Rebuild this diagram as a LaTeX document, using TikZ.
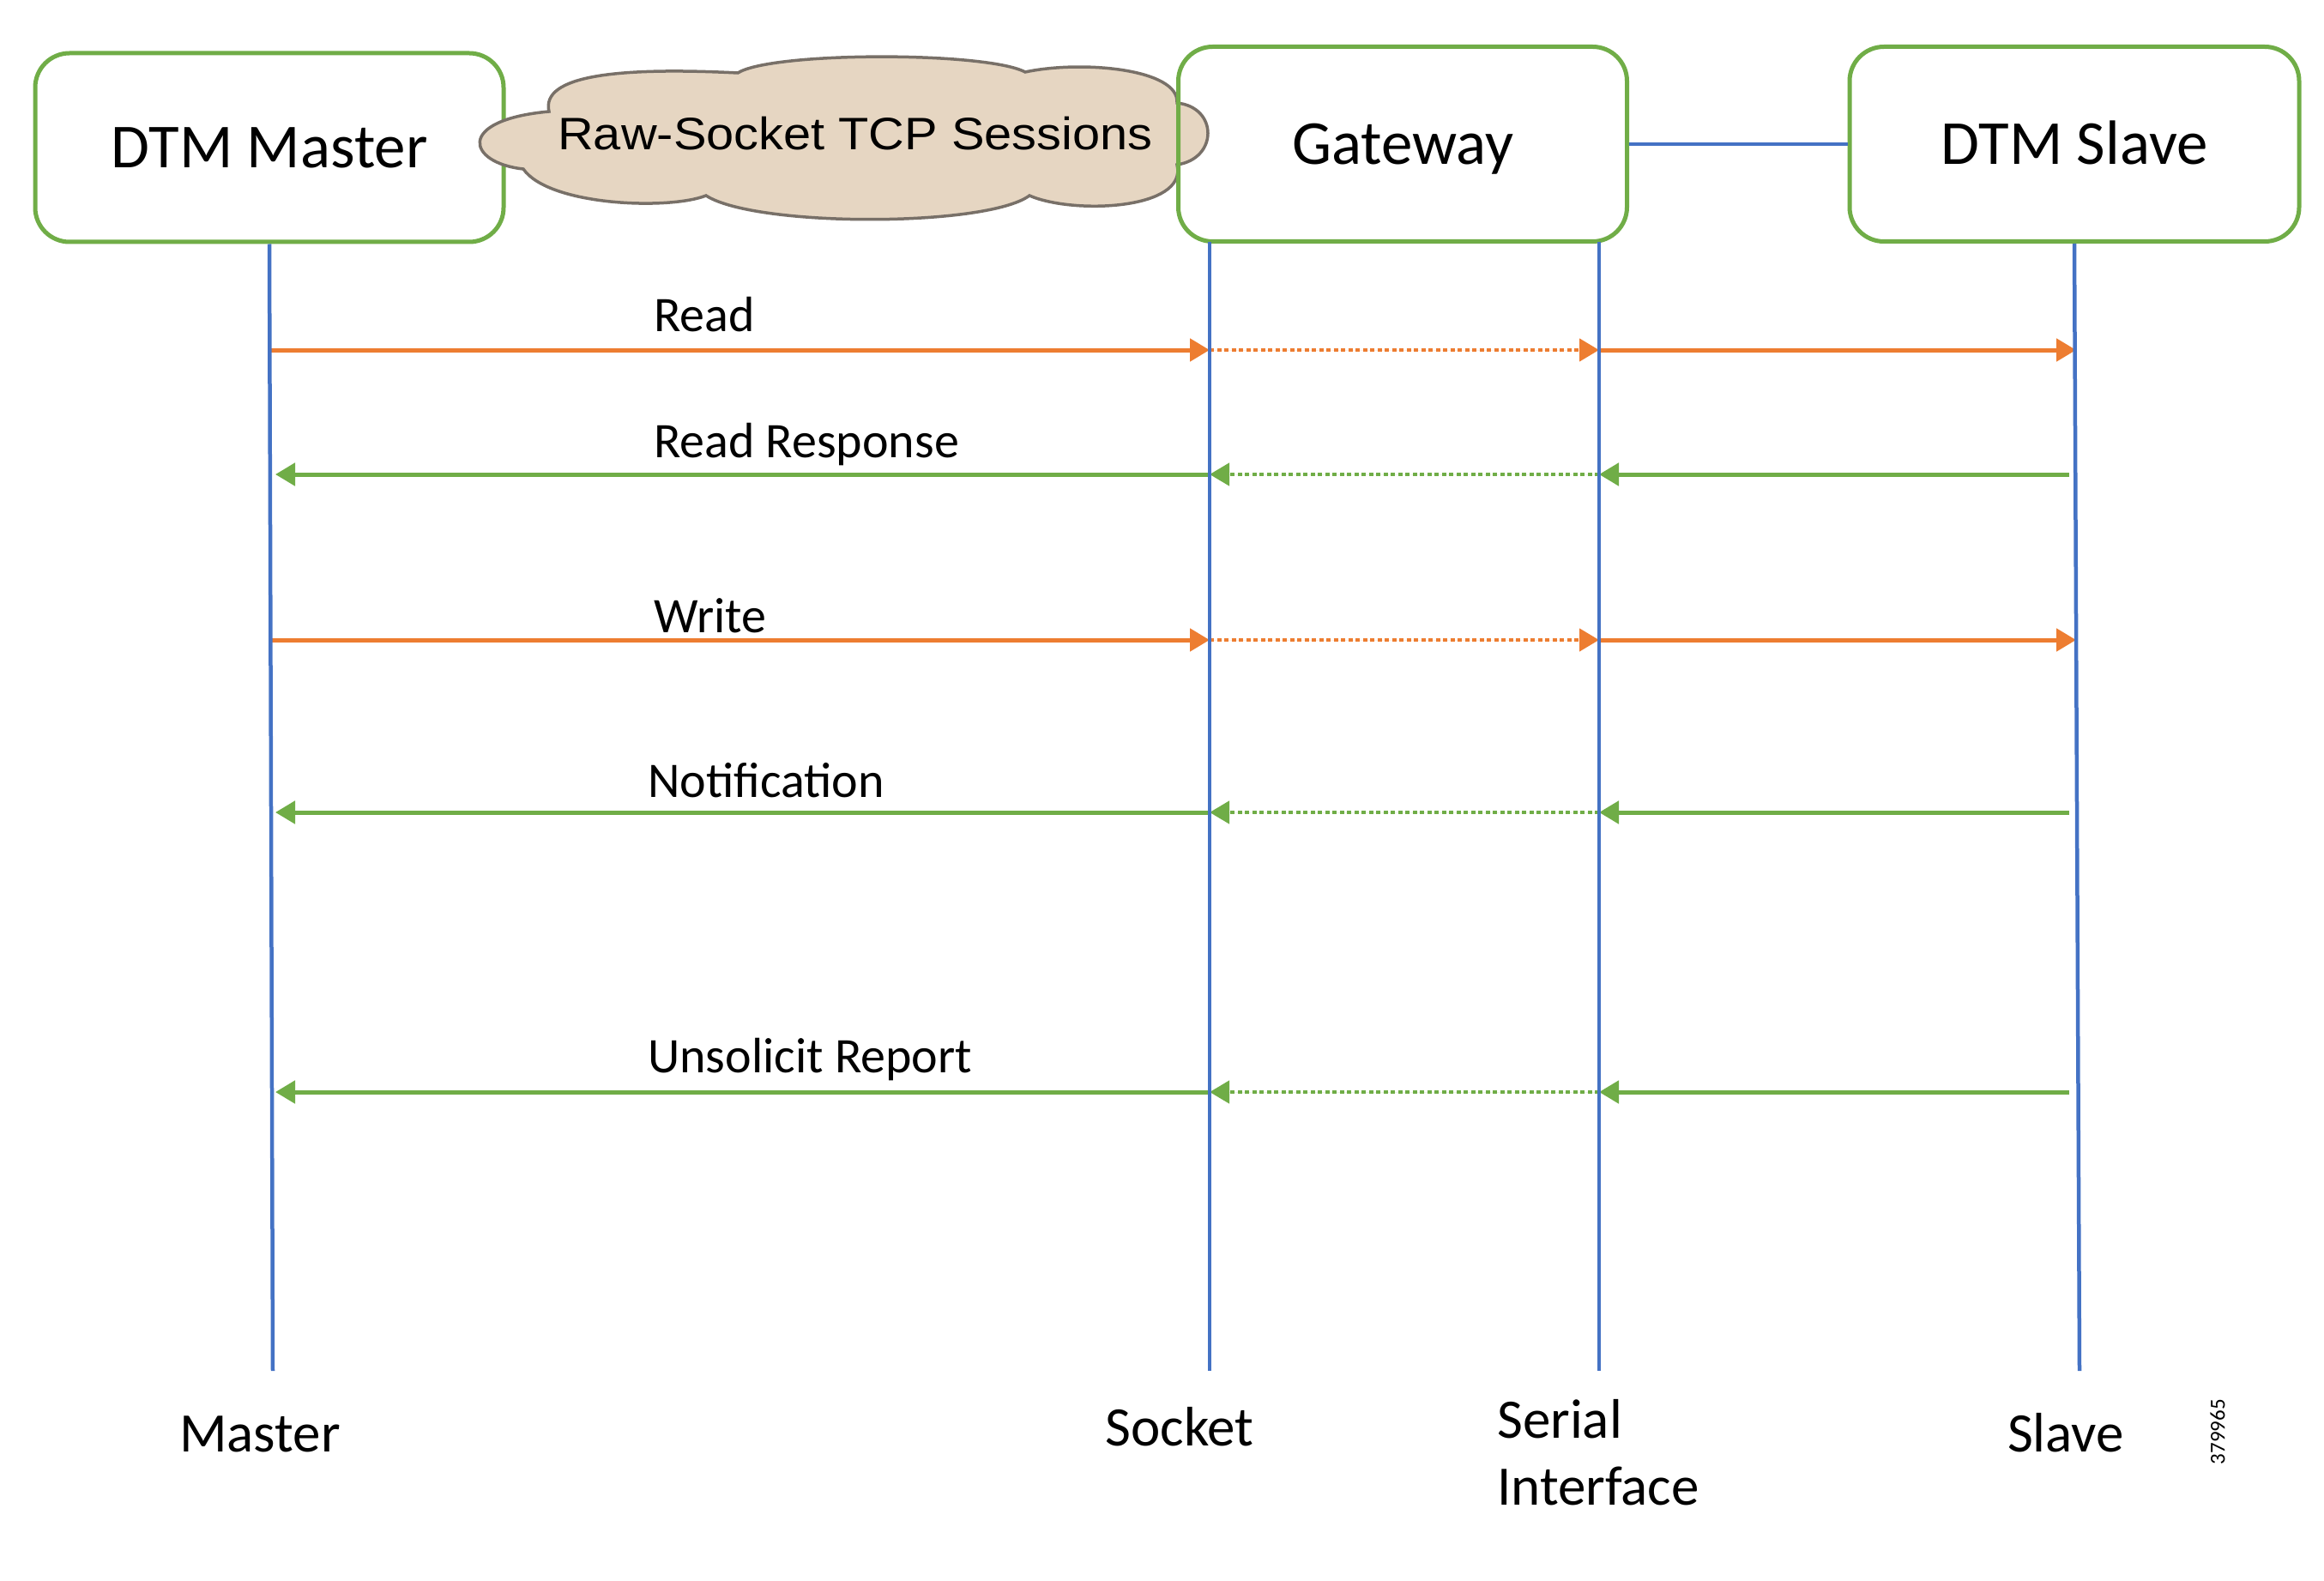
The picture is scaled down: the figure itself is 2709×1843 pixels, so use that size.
\documentclass[tikz,border=0pt]{standalone}
\usepackage{fontspec}
\setmainfont{Carlito}
\newfontfamily\arialfont{Liberation Sans}
\usetikzlibrary{arrows.meta}
\definecolor{boxgreen}{RGB}{112,173,71}
\definecolor{lineblue}{RGB}{68,114,196}
\definecolor{arrorange}{RGB}{237,125,49}
\definecolor{arrgreen}{RGB}{112,173,71}
\definecolor{cloudfill}{RGB}{230,214,194}
\definecolor{cloudedge}{RGB}{120,112,104}
\begin{document}
\begin{tikzpicture}[x=1pt,y=1pt,
 entity/.style={draw=boxgreen, line width=5pt, rounded corners=40pt, inner sep=0pt,
   font=\fontsize{73}{88}\selectfont, text height=47pt, text depth=0pt},
 lifeline/.style={draw=lineblue, line width=4.5pt},
 msg/.style={line width=5pt, -{Triangle[length=23pt,width=26pt]}},
 req/.style={msg, draw=arrorange, fill=arrorange},
 resp/.style={msg, draw=arrgreen, fill=arrgreen},
 relay/.style={line width=4.5pt, dash pattern=on 5pt off 3.5pt},
 msglabel/.style={anchor=base west, font=\fontsize{58}{70}\selectfont, inner sep=0pt},
 endlabel/.style={anchor=base, font=\fontsize{65}{78}\selectfont, inner sep=0pt}
]
\useasboundingbox (0,0) rectangle (2709,-1843);

% boxes
\node[entity, minimum width=546pt, minimum height=220pt] (master) at (314,-172) {DTM Master};

% cloud
\draw[draw=cloudedge, fill=cloudfill, line width=3.5pt]
 (610,-197) .. controls (545,-190) and (530,-140) .. (640,-130)
 .. controls (630,-88) and (720,-78) .. (860,-85)
 .. controls (900,-60) and (1150,-60) .. (1195,-84)
 .. controls (1260,-70) and (1375,-80) .. (1372,-120)
 .. controls (1420,-125) and (1420,-185) .. (1372,-192)
 .. controls (1385,-245) and (1250,-250) .. (1200,-228)
 .. controls (1150,-265) and (880,-265) .. (823,-228)
 .. controls (780,-245) and (640,-240) .. cycle;
\node[font=\arialfont\fontsize{53}{60}\selectfont, xscale=1.09, anchor=base, inner sep=0pt] (cloudtxt) at (997,-175) {Raw-Socket TCP Sessions};

\node[entity, minimum width=523pt, minimum height=227pt] (gateway) at (1635,-168) {Gateway};
\node[entity, minimum width=524pt, minimum height=227pt] (slave) at (2418,-168) {DTM Slave};
\draw[draw=lineblue, line width=4pt] (gateway.east) -- (slave.west);

% lifeline coordinates
\coordinate (mt) at (314,-282);
\coordinate (mb) at (318,-1598);
\coordinate (st) at (1410,-282);
\coordinate (sb) at (1410,-1598);
\coordinate (it) at (1864,-282);
\coordinate (ib) at (1864,-1598);
\coordinate (lt) at (2418,-282);
\coordinate (lb) at (2424,-1598);

% rows
\coordinate (r1) at (0,-408);
\coordinate (r2) at (0,-553);
\coordinate (r3) at (0,-746);
\coordinate (r4) at (0,-947);
\coordinate (r5) at (0,-1273);
\coordinate (mx) at (316,0);
\coordinate (mxg) at (321,0);
\coordinate (lx) at (2420,0);
\coordinate (lxg) at (2412,0);

% Read
\draw[req] (mx |- r1) -- (st |- r1);
\draw[req, relay] (st |- r1) -- (it |- r1);
\draw[req] (it |- r1) -- (lx |- r1);
% Read Response
\draw[resp] (lxg |- r2) -- (it |- r2);
\draw[resp, relay] (it |- r2) -- (st |- r2);
\draw[resp] (st |- r2) -- (mxg |- r2);
% Write
\draw[req] (mx |- r3) -- (st |- r3);
\draw[req, relay] (st |- r3) -- (it |- r3);
\draw[req] (it |- r3) -- (lx |- r3);
% Notification
\draw[resp] (lxg |- r4) -- (it |- r4);
\draw[resp, relay] (it |- r4) -- (st |- r4);
\draw[resp] (st |- r4) -- (mxg |- r4);
% Unsolicit Report
\draw[resp] (lxg |- r5) -- (it |- r5);
\draw[resp, relay] (it |- r5) -- (st |- r5);
\draw[resp] (st |- r5) -- (mxg |- r5);

% lifelines
\draw[lifeline] (master.south) -- (mb);
\draw[lifeline] (st) -- (sb);
\draw[lifeline] (it) -- (ib);
\draw[lifeline] (slave.south) -- (lb);

% message labels
\node[msglabel] (lread) at (762,-387) {Read};
\node[msglabel] (lresp) at (762,-533) {Read Response};
\node[msglabel] (lwrite) at (762,-737) {Write};
\node[msglabel] (lnotif) at (755,-929) {Notification};
\node[msglabel] (lunsol) at (755,-1250) {Unsolicit Report};

% bottom labels
\node[endlabel] (bmaster) at (303,-1692) {Master};
\node[endlabel] (bsocket) at (1375,-1685) {Socket};
\node[endlabel, anchor=base west] (bserial1) at (1745,-1676) {Serial};
\node[endlabel, anchor=base west] (bserial2) at (1745,-1754) {Interface};
\node[endlabel] (bslave) at (2408,-1692) {Slave};
\node[rotate=90, font=\fontsize{25}{30}\selectfont, inner sep=0pt] (fignum) at (2585,-1669) {379965};
\end{tikzpicture}
\end{document}
